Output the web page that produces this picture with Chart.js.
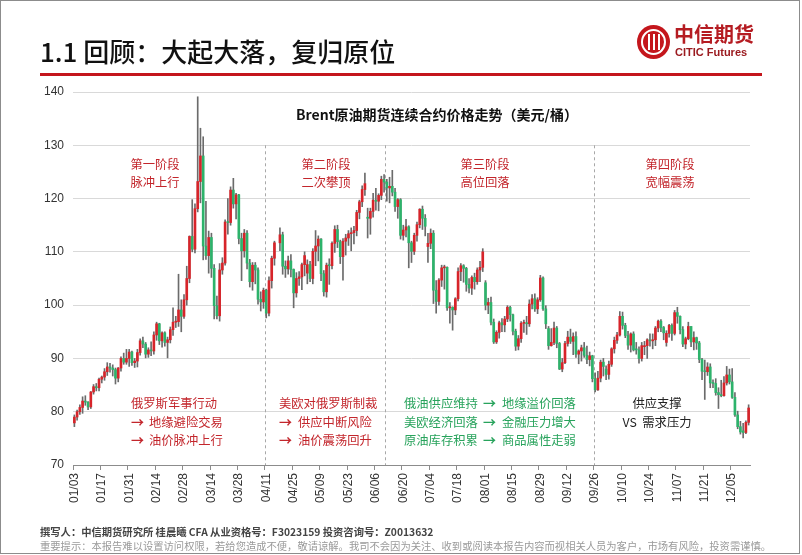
<!DOCTYPE html>
<html>
<head>
<meta charset="utf-8">
<script src="https://cdn.jsdelivr.net/npm/chart.js@4.4.1/dist/chart.umd.min.js"></script>
<style>
    body { margin: 0; background: #fff; font-family: "Noto Sans CJK SC", sans-serif; }
    #page { position: relative; width: 802px; height: 555px; overflow: hidden; background: #fff; }
    #frame { position: absolute; left: 0; top: 0; width: 800px; height: 554px; border: 1.5px solid #8c8c8c; box-sizing: border-box; }
    #chart { position: absolute; left: 0; top: 0; }
    #title { position: absolute; left: 40px; top: 36px; font-size: 26px; line-height: 30px; color: #111; font-weight: 500; white-space: nowrap; }
    #rule { position: absolute; left: 40px; top: 73px; width: 722px; height: 3px; background: #c4161c; }
    #logoMark { position: absolute; left: 637px; top: 25px; width: 33px; height: 34px; border-radius: 50%; background: #c4161c; }
    #logoMark .ring { position: absolute; left: 4px; top: 4px; width: 21px; height: 22px; border: 2px solid #fff; border-radius: 50%; }
    #logoMark .bar { position: absolute; top: 9px; width: 2px; height: 16px; background: #fff; }
    #logoCn { position: absolute; left: 674px; top: 22px; font-size: 20px; line-height: 24px; font-weight: bold; color: #b51c22; white-space: nowrap; }
    #logoEn { position: absolute; left: 675px; top: 46px; font: bold 11px "Liberation Sans", Arial, sans-serif; color: #9b1b20; white-space: nowrap; }
    #foot1 { position: absolute; left: 40px; top: 525px; font-size: 10.3px; line-height: 14px; font-weight: bold; color: #444; white-space: nowrap; }
    #foot2 { position: absolute; left: 40px; top: 539px; font-size: 10.3px; line-height: 14px; color: #999; white-space: nowrap; }
</style>
</head>
<body>
<div id="page">
    <canvas id="chart" width="802" height="555"></canvas>
    <div id="title">1.1 回顾：大起大落，复归原位</div>
    <div id="rule"></div>
    <div id="logoMark"><div class="ring"></div><div class="bar" style="left:11px"></div><div class="bar" style="left:16px"></div><div class="bar" style="left:21px"></div></div>
    <div id="logoCn">中信期货</div>
    <div id="logoEn">CITIC Futures</div>
    <div id="foot1">撰写人：中信期货研究所 桂晨曦 CFA 从业资格号：F3023159 投资咨询号：Z0013632</div>
    <div id="foot2">重要提示：本报告难以设置访问权限，若给您造成不便，敬请谅解。我司不会因为关注、收到或阅读本报告内容而视相关人员为客户，市场有风险，投资需谨慎。</div>
    <div id="frame"></div>
</div>
<script>
// Brent 连续合约 2022 日K线 (美元/桶)
const dates = [
    '01/03','01/04','01/05','01/06','01/07','01/10','01/11','01/12','01/13','01/14',
    '01/17','01/18','01/19','01/20','01/21','01/24','01/25','01/26','01/27','01/28',
    '01/31','02/01','02/02','02/03','02/04','02/07','02/08','02/09','02/10','02/11',
    '02/14','02/15','02/16','02/17','02/18','02/21','02/22','02/23','02/24','02/25',
    '02/28','03/01','03/02','03/03','03/04','03/07','03/08','03/09','03/10','03/11',
    '03/14','03/15','03/16','03/17','03/18','03/21','03/22','03/23','03/24','03/25',
    '03/28','03/29','03/30','03/31','04/01','04/04','04/05','04/06','04/07','04/08',
    '04/11','04/12','04/13','04/14','04/15','04/18','04/19','04/20','04/21','04/22',
    '04/25','04/26','04/27','04/28','04/29','05/02','05/03','05/04','05/05','05/06',
    '05/09','05/10','05/11','05/12','05/13','05/16','05/17','05/18','05/19','05/20',
    '05/23','05/24','05/25','05/26','05/27','05/30','05/31','06/01','06/02','06/03',
    '06/06','06/07','06/08','06/09','06/10','06/13','06/14','06/15','06/16','06/17',
    '06/20','06/21','06/22','06/23','06/24','06/27','06/28','06/29','06/30','07/01',
    '07/04','07/05','07/06','07/07','07/08','07/11','07/12','07/13','07/14','07/15',
    '07/18','07/19','07/20','07/21','07/22','07/25','07/26','07/27','07/28','07/29',
    '08/01','08/02','08/03','08/04','08/05','08/08','08/09','08/10','08/11','08/12',
    '08/15','08/16','08/17','08/18','08/19','08/22','08/23','08/24','08/25','08/26',
    '08/29','08/30','08/31','09/01','09/02','09/05','09/06','09/07','09/08','09/09',
    '09/12','09/13','09/14','09/15','09/16','09/19','09/20','09/21','09/22','09/23',
    '09/26','09/27','09/28','09/29','09/30','10/03','10/04','10/05','10/06','10/07',
    '10/10','10/11','10/12','10/13','10/14','10/17','10/18','10/19','10/20','10/21',
    '10/24','10/25','10/26','10/27','10/28','10/31','11/01','11/02','11/03','11/04',
    '11/07','11/08','11/09','11/10','11/11','11/14','11/15','11/16','11/17','11/18',
    '11/21','11/22','11/23','11/24','11/25','11/28','11/29','11/30','12/01','12/02',
    '12/05','12/06','12/07','12/08','12/09','12/12','12/13'
];

const opens = [
    77.9, 79.0, 80.0, 80.8, 82.0, 81.8, 80.9, 83.7, 84.7, 84.5,
    86.1, 86.5, 87.5, 88.4, 88.2, 87.9, 86.3, 88.2, 90.0, 89.3,
    90.0, 91.2, 89.2, 89.5, 91.1, 93.3, 92.7, 90.8, 91.6, 91.4,
    94.4, 96.5, 93.3, 94.8, 93.0, 93.5, 95.4, 96.8, 96.9, 99.1,
    97.9, 101.0, 105.0, 112.9, 110.5, 118.1, 123.2, 128.0, 111.1, 109.3,
    112.7, 106.9, 99.9, 98.0, 106.6, 107.9, 115.6, 115.5, 121.6, 119.0,
    120.7, 112.5, 110.2, 113.5, 107.9, 104.4, 107.5, 106.6, 101.1, 100.6,
    102.8, 98.5, 104.6, 108.8, null, 111.7, 113.2, 107.3, 106.8, 108.3,
    106.7, 102.3, 105.0, 105.3, 107.6, 106.0, 107.6, 105.0, 110.1, 111.1,
    112.4, 105.9, 102.5, 107.5, 107.4, 111.6, 114.2, 111.9, 109.1, 112.0,
    112.6, 113.4, 113.6, 114.0, 117.4, 119.4, 121.7, 116.5, 116.3, 117.6,
    119.7, 119.5, 120.6, 123.6, 123.1, 122.0, 122.3, 121.2, 118.5, 119.8,
    113.1, 114.1, 114.7, 111.7, 110.1, 113.1, 115.1, 118.0, 116.3, 111.0,
    111.6, 113.5, 102.8, 100.7, 104.7, 107.0, 107.1, 99.5, 99.6, 99.1,
    101.2, 106.3, 107.4, 106.9, 103.9, 103.2, 105.2, 104.4, 106.6, 107.1,
    104.2, 100.0, 100.5, 96.8, 93.1, 94.9, 96.7, 96.3, 97.4, 99.6,
    98.2, 95.1, 92.3, 93.7, 96.6, 96.7, 96.5, 100.2, 101.2, 99.3,
    101.0, 105.1, 99.3, 95.6, 92.4, 93.0, 95.7, 92.8, 88.0, 89.2,
    92.8, 94.0, 93.2, 94.1, 90.8, 91.4, 92.0, 90.6, 89.8, 90.5,
    86.2, 84.1, 86.3, 89.3, 88.0, 87.0, 88.9, 91.8, 93.4, 94.4,
    97.9, 96.2, 94.3, 92.5, 94.6, 91.8, 91.6, 90.0, 92.2, 92.4,
    93.5, 93.3, 93.5, 95.7, 97.0, 95.8, 93.0, 94.7, 96.2, 94.7,
    98.6, 97.9, 95.4, 92.7, 93.7, 96.0, 93.1, 93.9, 92.9, 89.8,
    87.6, 87.5, 88.4, 85.4, 85.3, 83.6, 83.2, 83.0, 85.4, 86.9,
    85.6, 82.7, 79.4, 77.2, 76.4, 76.1, 78.0
];

const highs = [
    79.4, 80.3, 81.3, 82.8, 83.0, 81.9, 83.8, 85.1, 85.3, 86.3,
    86.7, 88.1, 89.2, 89.1, 88.8, 88.2, 88.3, 90.3, 91.0, 91.7,
    91.7, 91.4, 90.0, 91.7, 93.7, 94.0, 93.0, 92.0, 93.1, 95.0,
    96.8, 96.6, 95.0, 95.0, 94.0, 95.9, 99.5, 97.9, 105.8, 101.0,
    102.0, 107.3, 113.0, 119.8, 119.0, 139.1, 133.2, 131.6, 119.5, 113.9,
    113.5, 107.6, 101.7, 107.8, 108.9, 116.0, 120.0, 122.2, 123.8, 121.0,
    120.8, 113.5, 114.2, 114.0, 108.6, 108.0, 108.0, 107.0, 102.5, 103.2,
    103.0, 105.3, 109.2, 112.0, null, 114.5, 113.7, 108.3, 109.2, 109.5,
    106.8, 106.1, 106.3, 107.9, 110.0, 108.5, 108.2, 110.6, 114.0, 113.0,
    112.5, 106.5, 107.9, 108.7, 111.9, 114.9, 115.0, 112.2, 112.5, 113.3,
    114.0, 114.5, 114.8, 117.8, 119.7, 122.4, 124.8, 118.2, 118.2, 121.0,
    121.9, 120.9, 124.2, 124.5, 123.6, 124.0, 125.3, 121.9, 120.0, 120.0,
    115.0, 116.1, 114.9, 112.0, 113.5, 115.6, 118.1, 118.6, 117.0, 113.5,
    114.3, 114.0, 104.6, 105.0, 107.5, 107.5, 107.2, 100.5, 99.7, 101.4,
    107.0, 107.8, 107.6, 107.1, 105.0, 105.5, 106.0, 107.0, 108.2, 110.6,
    104.6, 101.3, 101.5, 97.4, 95.2, 97.0, 97.5, 97.9, 99.9, 99.8,
    98.3, 95.5, 94.3, 96.9, 97.2, 97.9, 101.0, 102.0, 102.1, 101.4,
    105.6, 105.3, 99.9, 96.0, 95.6, 96.8, 96.0, 93.0, 90.0, 93.2,
    95.1, 95.5, 94.8, 95.0, 91.6, 92.5, 93.0, 92.3, 91.2, 90.6,
    87.3, 87.6, 89.7, 90.0, 88.6, 89.5, 92.0, 94.0, 94.9, 98.8,
    98.7, 96.6, 95.1, 94.8, 95.0, 93.0, 92.2, 93.0, 93.2, 93.7,
    94.6, 94.6, 96.0, 97.2, 97.3, 96.0, 95.2, 96.4, 96.5, 99.0,
    99.6, 98.0, 96.0, 94.0, 96.8, 96.0, 95.0, 94.0, 93.2, 90.0,
    89.7, 89.2, 89.0, 86.0, 86.2, 84.5, 85.9, 86.6, 88.5, 88.0,
    88.1, 83.6, 80.1, 78.2, 77.8, 78.3, 81.3
];

const lows = [
    77.2, 78.4, 79.5, 79.7, 81.2, 80.4, 80.6, 83.3, 83.9, 83.9,
    85.4, 85.9, 86.8, 87.4, 86.7, 85.2, 85.6, 87.6, 88.9, 88.9,
    88.5, 88.7, 88.3, 88.4, 90.6, 92.0, 90.1, 90.2, 90.5, 90.8,
    93.4, 92.6, 92.1, 92.3, 90.1, 92.9, 94.3, 95.8, 96.0, 95.0,
    97.5, 100.0, 104.2, 110.0, 109.8, 117.5, 119.2, 108.5, 108.6, 106.0,
    105.2, 97.4, 97.4, 97.0, 105.8, 107.5, 113.3, 115.0, 118.2, 116.2,
    111.5, 104.6, 109.0, 106.8, 103.4, 102.8, 104.0, 100.2, 98.9, 99.4,
    97.6, 98.0, 103.2, 107.5, null, 110.2, 105.8, 105.2, 105.8, 105.3,
    99.5, 101.5, 103.7, 102.9, 105.5, 104.0, 104.4, 104.0, 107.4, 108.3,
    104.6, 101.7, 101.5, 103.9, 106.8, 109.9, 110.8, 107.8, 104.7, 109.4,
    111.2, 110.2, 111.5, 113.0, 116.2, 118.5, 120.6, 112.6, 113.3, 116.5,
    117.8, 117.7, 119.8, 121.2, 119.5, 119.2, 120.5, 117.6, 116.3, 112.4,
    112.2, 112.8, 107.0, 108.0, 109.5, 112.0, 114.5, 114.2, 113.0, 108.0,
    110.6, 100.3, 98.5, 100.0, 103.5, 103.0, 99.0, 96.6, 95.3, 98.2,
    100.8, 104.6, 104.3, 102.6, 102.3, 102.0, 103.0, 103.9, 104.4, 106.3,
    99.1, 98.4, 96.3, 92.8, 92.8, 93.8, 95.0, 95.0, 96.9, 97.0,
    94.4, 91.5, 91.6, 93.0, 94.9, 94.5, 96.0, 99.3, 98.8, 98.4,
    100.7, 99.0, 95.6, 91.7, 92.3, 92.6, 92.0, 87.9, 87.5, 89.0,
    92.3, 92.8, 90.7, 90.2, 89.0, 89.5, 90.2, 89.0, 88.6, 85.6,
    83.7, 84.0, 85.6, 86.7, 86.0, 86.1, 88.5, 91.0, 92.8, 94.2,
    95.5, 93.9, 91.7, 91.2, 91.4, 90.8, 89.1, 89.5, 90.7, 90.0,
    92.3, 91.8, 92.4, 95.0, 95.0, 93.5, 92.3, 94.0, 93.4, 94.4,
    96.6, 94.6, 92.2, 91.8, 93.5, 92.2, 91.6, 91.7, 89.2, 86.0,
    82.3, 86.8, 84.5, 84.5, 83.1, 80.6, 82.8, 82.9, 85.0, 85.2,
    82.5, 79.1, 76.8, 75.8, 75.1, 75.9, 77.5
];

const closes = [
    79.0, 80.0, 80.8, 82.0, 81.8, 80.9, 83.7, 84.7, 84.5, 86.1,
    86.5, 87.5, 88.4, 88.2, 87.9, 86.3, 88.2, 90.0, 89.3, 90.0,
    91.2, 89.2, 89.5, 91.1, 93.3, 92.7, 90.8, 91.6, 91.4, 94.4,
    96.5, 93.3, 94.8, 93.0, 93.5, 95.4, 96.8, 96.9, 99.1, 97.9,
    101.0, 105.0, 112.9, 110.5, 118.1, 123.2, 128.0, 111.1, 109.3, 112.7,
    106.9, 99.9, 98.0, 106.6, 107.9, 115.6, 115.5, 121.6, 119.0, 120.7,
    112.5, 110.2, 113.5, 107.9, 104.4, 107.5, 106.6, 101.1, 100.6, 102.8,
    98.5, 104.6, 108.8, 111.7, null, 113.2, 107.3, 106.8, 108.3, 106.7,
    102.3, 105.0, 105.3, 107.6, 109.3, 107.6, 105.0, 110.1, 111.1, 112.4,
    105.9, 102.5, 107.5, 107.4, 111.6, 114.2, 111.9, 109.1, 112.0, 112.6,
    113.4, 113.6, 114.0, 117.4, 119.4, 121.7, 122.8, 116.3, 117.6, 119.7,
    119.5, 120.6, 123.6, 123.1, 122.0, 122.3, 121.2, 118.5, 119.8, 113.1,
    114.1, 114.7, 111.7, 110.1, 113.1, 115.1, 118.0, 116.3, 114.8, 111.6,
    113.5, 102.8, 100.7, 104.7, 107.0, 107.1, 99.5, 99.6, 99.1, 101.2,
    106.3, 107.4, 106.9, 103.9, 103.2, 105.2, 104.4, 106.6, 107.1, 110.0,
    100.0, 100.5, 96.8, 93.1, 94.9, 96.7, 96.3, 97.4, 99.6, 98.2,
    95.1, 92.3, 93.7, 96.6, 96.7, 96.5, 100.2, 101.2, 99.3, 101.0,
    105.1, 99.3, 96.5, 92.4, 93.0, 95.7, 92.8, 88.0, 89.2, 92.8,
    94.0, 93.2, 94.1, 90.8, 91.4, 92.0, 90.6, 89.8, 90.5, 86.2,
    84.1, 86.3, 89.3, 88.5, 87.0, 88.9, 91.8, 93.4, 94.4, 97.9,
    96.2, 94.3, 92.5, 94.6, 91.6, 91.6, 90.0, 92.4, 92.4, 93.5,
    93.3, 93.5, 95.7, 97.0, 95.8, 94.8, 94.7, 96.2, 94.7, 98.6,
    97.9, 95.4, 92.7, 93.7, 96.0, 93.1, 93.9, 92.9, 89.8, 87.6,
    87.5, 88.4, 85.4, 85.3, 83.6, 83.2, 83.0, 85.4, 86.9, 85.6,
    82.7, 79.4, 77.2, 76.2, 76.1, 78.0, 80.7
];

// 阶段分界：各阶段首个交易日的序号
const phaseStarts = [70, 114, 190];

const chartTitle = 'Brent原油期货连续合约价格走势（美元/桶）';
const stageNames = [['第一阶段', '脉冲上行'], ['第二阶段', '二次攀顶'], ['第三阶段', '高位回落'], ['第四阶段', '宽幅震荡']];

const RED = '#d7242a';
const GREEN = '#2db36b';
const TEXT_RED = '#c3262c';
const TEXT_GREEN = '#28a35c';

const bodies = opens.map((o, i) => o === null ? null : [o, closes[i]]);
const wicks = lows.map((l, i) => l === null ? null : [l, highs[i]]);
const bodyColors = opens.map((o, i) => closes[i] >= o ? RED : GREEN);

const annotations = {
    id: 'annotations',
    beforeDatasetsDraw(chart) {
        const { ctx, chartArea, scales: { x, y } } = chart;
        ctx.save();
        ctx.strokeStyle = '#a8a8a8';
        ctx.lineWidth = 1;
        ctx.setLineDash([3, 3]);
        phaseStarts.forEach(idx => {
            const px = Math.round(x.getPixelForValue(idx - 0.5)) + 0.5;
            ctx.beginPath();
            ctx.moveTo(px, y.getPixelForValue(130));
            ctx.lineTo(px, chartArea.bottom);
            ctx.stroke();
        });
        ctx.restore();
    },
    afterDatasetsDraw(chart) {
        const { ctx } = chart;
        const cjk = '"Noto Sans CJK SC", sans-serif';
        ctx.save();
        ctx.textBaseline = 'middle';

        // 图表标题
        ctx.textAlign = 'center';
        ctx.fillStyle = '#111';
        ctx.font = 'bold 14px ' + cjk;
        ctx.fillText(chartTitle, 437, 115);

        // 阶段名称
        ctx.font = '12.3px ' + cjk;
        ctx.fillStyle = TEXT_RED;
        const stageX = [155, 326, 485, 670];
        stageNames.forEach((pair, k) => {
            ctx.fillText(pair[0], stageX[k], 164);
            ctx.fillText(pair[1], stageX[k], 182);
        });

        // 驱动逻辑
        const rows = [403, 422, 440];
        ctx.textAlign = 'left';
        ctx.fillStyle = TEXT_RED;
        ctx.fillText('俄罗斯军事行动', 131, rows[0]);
        ctx.fillText('地缘避险交易', 149, rows[1]);
        ctx.fillText('油价脉冲上行', 149, rows[2]);
        ctx.fillText('美欧对俄罗斯制裁', 279, rows[0]);
        ctx.fillText('供应中断风险', 298, rows[1]);
        ctx.fillText('油价震荡回升', 298, rows[2]);

        ctx.fillStyle = TEXT_GREEN;
        ['俄油供应维持', '美欧经济回落', '原油库存积累'].forEach((t, k) => ctx.fillText(t, 404, rows[k]));
        ['地缘溢价回落', '金融压力增大', '商品属性走弱'].forEach((t, k) => ctx.fillText(t, 502, rows[k]));

        ctx.font = 'bold 13px ' + cjk;
        ctx.fillStyle = TEXT_RED;
        [131, 279].forEach(ax => { ctx.fillText('→', ax, rows[1]); ctx.fillText('→', ax, rows[2]); });
        ctx.fillStyle = TEXT_GREEN;
        rows.forEach(r => ctx.fillText('→', 483, r));

        ctx.textAlign = 'center';
        ctx.fillStyle = '#222';
        ctx.font = '12.3px ' + cjk;
        ctx.fillText('供应支撑', 657, rows[0]);
        ctx.fillText('VS  需求压力', 657, rows[1]);
        ctx.restore();
    }
};

new Chart(document.getElementById('chart'), {
    type: 'bar',
    data: {
        labels: dates,
        datasets: [
            {
                label: '实体',
                data: bodies,
                backgroundColor: bodyColors,
                barThickness: 2,
                minBarLength: 1,
                grouped: false
            },
            {
                label: '影线',
                data: wicks,
                backgroundColor: '#6b6b6b',
                barThickness: 1,
                grouped: false
            }
        ]
    },
    options: {
        responsive: false,
        animation: false,
        layout: { padding: { left: 20, top: 92, right: 52, bottom: 45 } },
        plugins: {
            legend: { display: false },
            tooltip: { enabled: false }
        },
        scales: {
            x: {
                offset: true,
                afterFit: s => { s.height = 45; },
                grid: {
                    offset: true,
                    drawOnChartArea: false,
                    tickLength: 5,
                    tickColor: c => (c.index % 10 === 0 ? '#8c8c8c' : 'rgba(0,0,0,0)')
                },
                border: { color: '#8c8c8c' },
                ticks: {
                    autoSkip: false,
                    maxRotation: 90,
                    minRotation: 90,
                    padding: 3,
                    color: '#333',
                    font: { family: '"Liberation Sans", Arial, sans-serif', size: 12 },
                    callback: (v, i) => (i % 10 === 0 ? dates[i] : '')
                }
            },
            y: {
                min: 70,
                max: 140,
                afterFit: s => { s.width = 53; },
                grid: { color: '#d9d9d9', drawTicks: false },
                border: { display: false },
                ticks: {
                    stepSize: 10,
                    padding: 9,
                    color: '#333',
                    font: { family: '"Liberation Sans", Arial, sans-serif', size: 12 }
                }
            }
        }
    },
    plugins: [annotations]
});
</script>
</body>
</html>
